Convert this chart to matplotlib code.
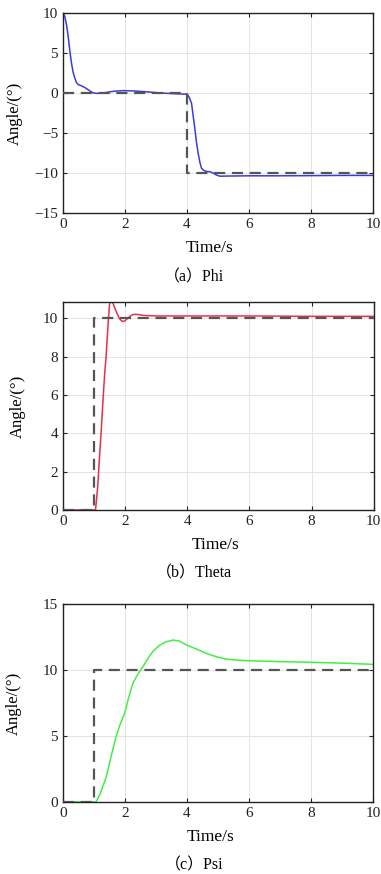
import matplotlib
matplotlib.use("Agg")
import matplotlib.pyplot as plt

# ---- data ----
phi_t = [0, 0.06, 0.12, 0.18, 0.23, 0.28, 0.33, 0.39, 0.44, 0.5, 0.6, 0.7, 0.8, 0.9, 0.97, 1.1, 1.3,
         1.6, 1.94, 2.3, 2.7, 3.0, 3.4, 3.8, 4.0, 4.03, 4.08, 4.15, 4.2, 4.26, 4.31, 4.36, 4.42,
         4.47, 4.55, 4.63, 4.75, 4.84, 4.95, 5.06, 5.3, 6, 7, 8, 9, 10]
phi_v = [10, 9.6, 8.5, 6.8, 5.1, 3.7, 2.6, 1.8, 1.3, 1.05, 0.9, 0.7, 0.45, 0.18, 0.03, -0.05, 0.0,
         0.2, 0.3, 0.25, 0.15, 0.05, -0.05, -0.12, -0.15, -0.25, -0.6, -1.3, -2.8, -4.6, -6.2, -7.5, -8.7,
         -9.4, -9.7, -9.8, -9.85, -10.0, -10.25, -10.4, -10.38, -10.35, -10.35, -10.33, -10.3, -10.3]
phi_ref_t = [0, 4, 4, 10]
phi_ref_v = [0, 0, -10, -10]

theta_t = [0, 1.0, 1.05, 1.12, 1.18, 1.24, 1.29, 1.34, 1.39, 1.45, 1.5, 1.55, 1.58, 1.62, 1.68,
           1.74, 1.82, 1.9, 1.95, 2.02, 2.12, 2.25, 2.4, 2.58, 3.0, 4, 6, 8, 10]
theta_v = [0, 0, 0, 1.2, 2.8, 4.3, 5.7, 7.0, 8.0, 9.6, 10.7, 10.95, 10.9, 10.75, 10.5,
           10.26, 9.98, 9.85, 9.83, 9.9, 10.05, 10.2, 10.2, 10.15, 10.12, 10.12, 10.12, 10.1, 10.1]
theta_ref_t = [0, 1, 1, 10]
theta_ref_v = [0, 0, 10, 10]

psi_t = [0, 1.0, 1.07, 1.2, 1.4, 1.55, 1.72, 1.85, 1.99, 2.12, 2.26, 2.42, 2.58, 2.75, 2.9, 3.1,
         3.33, 3.55, 3.75, 3.98, 4.3, 4.62, 4.95, 5.27, 5.6, 6.02, 7.1, 8.06, 9.0, 10]
psi_v = [0, 0, 0, 0.6, 1.9, 3.4, 5.0, 5.9, 6.7, 7.9, 9.0, 9.7, 10.25, 10.9, 11.4, 11.85,
         12.14, 12.27, 12.2, 11.9, 11.6, 11.26, 11.0, 10.83, 10.75, 10.7, 10.63, 10.58, 10.52, 10.43]
psi_ref_t = [0, 1, 1, 10]
psi_ref_v = [0, 0, 10, 10]

xticks = [0, 2, 4, 6, 8, 10]
phi_yticks = [-15, -10, -5, 0, 5, 10]
theta_yticks = [0, 2, 4, 6, 8, 10]
psi_yticks = [0, 5, 10, 15]

plt.rcParams['font.family'] = ['Liberation Serif', 'DejaVu Serif']

fig = plt.figure(figsize=(3.81, 8.74), dpi=100)

panels = [
    dict(pos=[0.165, 0.7563, 0.814, 0.2288], t=phi_t, v=phi_v, rt=phi_ref_t, rv=phi_ref_v,
         color='#3b3bd6', ylim=(-15, 10), yticks=phi_yticks, cap='（a）Phi',
         xl_y=248, cap_y=277, xl_x=210, yl_x=23),
    dict(pos=[0.165, 0.4165, 0.816, 0.238], t=theta_t, v=theta_v, rt=theta_ref_t, rv=theta_ref_v,
         color='#e8304a', ylim=(0, 10.85), yticks=theta_yticks, cap='（b）Theta',
         xl_y=545, cap_y=573, xl_x=216, yl_x=26),
    dict(pos=[0.165, 0.0824, 0.814, 0.2265], t=psi_t, v=psi_v, rt=psi_ref_t, rv=psi_ref_v,
         color='#44ee44', ylim=(0, 15), yticks=psi_yticks, cap='（c）Psi',
         xl_y=837, cap_y=865, xl_x=211, yl_x=22),
]

H = 874.0
W = 381.0
for p in panels:
    ax = fig.add_axes(p['pos'])
    ax.plot(p['rt'], p['rv'], color='#555555', lw=1.6, ls=(0, (5, 3)), zorder=3)
    ax.plot(p['t'], p['v'], color=p['color'], lw=1.1, zorder=2)
    ax.set_xlim(0, 10)
    ax.set_ylim(*p['ylim'])
    ax.set_xticks(xticks)
    ax.set_yticks(p['yticks'])
    ax.grid(True, color='#e4e4e4', lw=0.7)
    ax.tick_params(direction='in', top=True, right=True, labelsize=11, length=3,
                   width=0.8, colors='#222222')
    for s in ax.spines.values():
        s.set_linewidth(1.0)
        s.set_color('#222222')
    ax.set_ylabel('Angle/(°)', fontsize=12)
    axw = p['pos'][2] * W
    ax.yaxis.set_label_coords((p['yl_x'] - p['pos'][0] * W) / axw, 0.5)
    fig.text(p['xl_x'] / W, 1 - p['xl_y'] / H, 'Time/s', ha='center', va='center', fontsize=12.5)
    fig.text(194 / W, 1 - p['cap_y'] / H, p['cap'], ha='center', va='center', fontsize=11.5,
             family=['Liberation Serif', 'Noto Sans CJK SC'])

fig.savefig('out.png', dpi=100)
